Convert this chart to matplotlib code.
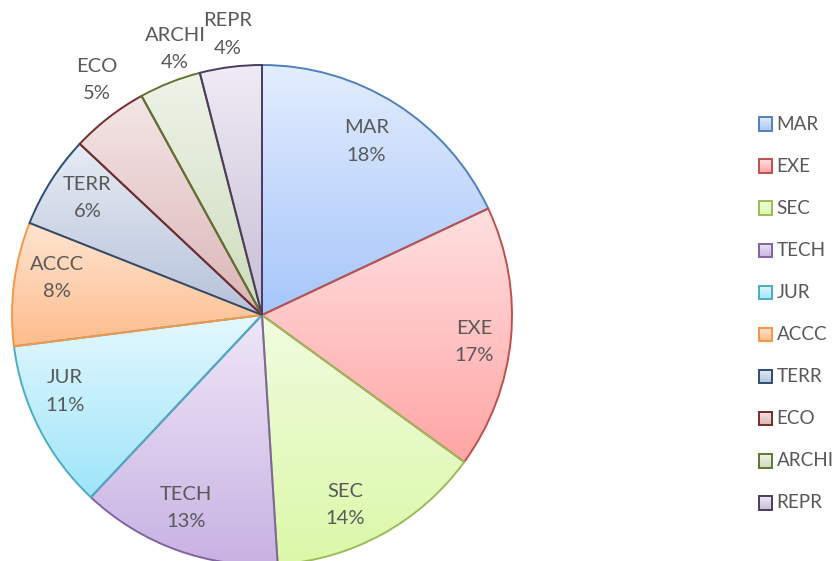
import numpy as np
import matplotlib
matplotlib.use("Agg")
import matplotlib.pyplot as plt
from matplotlib.colors import LinearSegmentedColormap
from matplotlib.patches import Rectangle

categories = ["MAR", "EXE", "SEC", "TECH", "JUR", "ACCC", "TERR", "ECO", "ARCHI", "REPR"]
shares = [18, 17, 14, 13, 11, 8, 6, 5, 4, 4]

# light (top) and deeper (bottom) tints of each slice, plus its outline colour
top_colors = ["#E3EDFD", "#FFE0E0", "#F1FCDF", "#EFE7F8", "#E4F8FE",
              "#FFE5D2", "#E7ECF4", "#F4E6E6", "#EFF3E9", "#EFEBF4"]
bottom_colors = ["#A6C6FA", "#FFA5A5", "#DBF8A8", "#C8B2E3", "#9FE5FA",
                 "#FDBC8C", "#B6C2DA", "#DBB5B7", "#CEDCBD", "#C6BED6"]
edge_colors = ["#4F81BD", "#C0504D", "#9BBB59", "#8064A2", "#4BACC6",
               "#F79646", "#2C4D75", "#772C2A", "#5F7530", "#4D3B62"]

W, H = 835, 561
plt.rcParams["font.family"] = ["Lato", "DejaVu Sans"]
text_color = "#595959"
fs = 14.5

fig = plt.figure(figsize=(W / 100, H / 100), dpi=100)
ax = fig.add_axes([0, 0, 1, 1])

cx, cy, R = 262, H - 315, 250
wedges, _ = ax.pie(shares, startangle=90, counterclock=False,
                   center=(cx, cy), radius=R)

grad = np.linspace(0, 1, 256).reshape(-1, 1)
for w, c0, c1, ec in zip(wedges, top_colors, bottom_colors, edge_colors):
    cmap = LinearSegmentedColormap.from_list("g", [c1, c0])
    ext = w.get_path().get_extents()
    im = ax.imshow(grad, cmap=cmap, origin="lower", aspect="auto",
                   extent=[ext.x0, ext.x1, ext.y0, ext.y1], zorder=1,
                   interpolation="bilinear")
    im.set_clip_path(w)
    w.set_facecolor("none")
    w.set_edgecolor(ec)
    w.set_linewidth(1.4)
    w.set_zorder(2)

# data labels: inside for large slices, outside for the small top ones
label_dist = [0.81, 0.855, 0.83, 0.83, 0.845, 0.835, 0.84, 1.15, 1.12, 1.13]
label_turn = [1.4, -1.9, -5.2, -1.7, -5.7, -3.0, -1.4, -2.7, -3.5, -0.3]
for w, name, v, d, t in zip(wedges, categories, shares, label_dist, label_turn):
    mid = np.deg2rad((w.theta1 + w.theta2) / 2 + t)
    x = cx + d * R * np.cos(mid)
    y = cy + d * R * np.sin(mid)
    ax.text(x, y, f"{name}\n{v}%", ha="center", va="center",
            fontsize=fs, color=text_color, linespacing=1.75, zorder=3)

# legend column
lx, ly0, step, sz = 758.5, 124, 42.1, 13.5
for i, (name, c0, c1, ec) in enumerate(zip(categories, top_colors,
                                            bottom_colors, edge_colors)):
    yc = H - (ly0 + i * step)
    cmap = LinearSegmentedColormap.from_list("g", [c1, c0])
    ax.imshow(grad, cmap=cmap, origin="lower", aspect="auto",
              extent=[lx, lx + sz, yc - sz / 2, yc + sz / 2], zorder=1)
    ax.add_patch(Rectangle((lx, yc - sz / 2), sz, sz, facecolor="none",
                           edgecolor=ec, linewidth=1.4, zorder=2))
    ax.text(lx + sz + 4.5, yc, name, ha="left", va="center",
            fontsize=13.6, color=text_color, zorder=3)

ax.set_xlim(0, W)
ax.set_ylim(0, H)
ax.set_aspect("equal")
ax.axis("off")

fig.savefig("out.png", dpi=100)
